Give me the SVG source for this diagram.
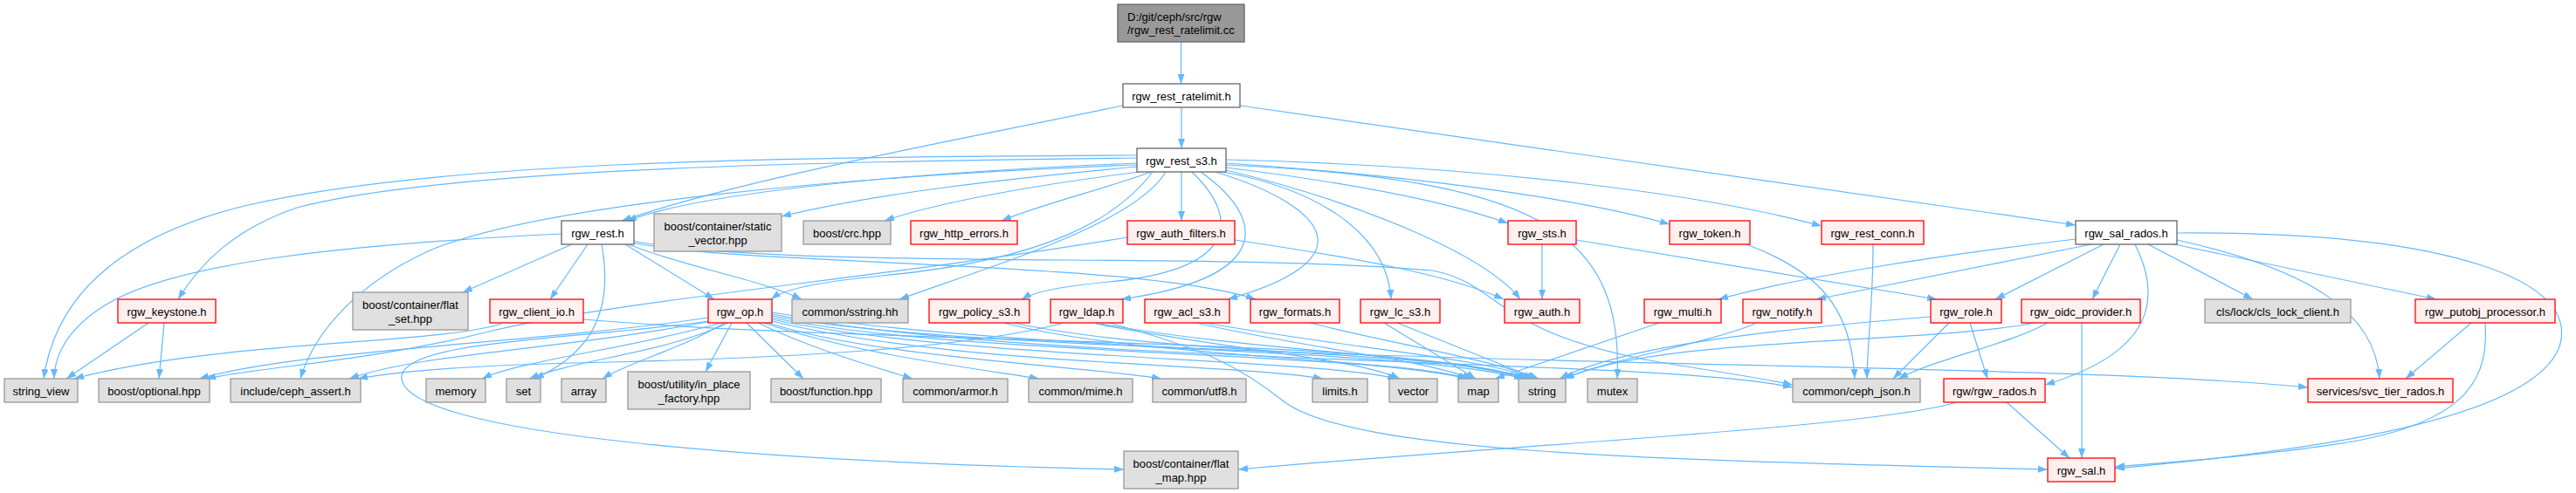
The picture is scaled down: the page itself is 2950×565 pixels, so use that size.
<svg xmlns="http://www.w3.org/2000/svg" width="2950" height="565" viewBox="0 0 2950 565">
<style>
text{font-family:"Liberation Sans",Arial,Helvetica,sans-serif;font-size:13px;fill:#000;text-anchor:middle}
.root rect{fill:#999999;stroke:#666666;stroke-width:1.3}
.w rect{fill:#ffffff;stroke:#666666;stroke-width:1.3}
.r rect{fill:#fff0f0;stroke:#ff0000;stroke-width:1.3}
.g rect{fill:#e0e0e0;stroke:#999999;stroke-width:1.3}
.e path{fill:none;stroke:#63b8ff;stroke-width:1.2;marker-end:url(#ah)}
</style>
<defs>
<marker id="ah" markerUnits="userSpaceOnUse" markerWidth="11" markerHeight="8" refX="11" refY="4" orient="auto"><path d="M0,0 L11,4 L0,8 z" fill="#63b8ff"/></marker>
</defs>
<rect width="2950" height="565" fill="#ffffff"/>
<g id="connectors" class="e">
<path d="M1352.5,48 L1352.5,96"/>
<path d="M1353,123 L1353,170"/>
<path d="M1286,121 C1100,160 850,205 712,253"/>
<path d="M1420,121 L2377,258"/>
<path d="M1302,187 C1100,195 820,215 718,253"/>
<path d="M1302,191 C1150,205 1000,222 895,248"/>
<path d="M1305,197 C1200,210 1080,230 1013,253"/>
<path d="M1318,197 C1270,215 1190,235 1147,253"/>
<path d="M1353,197 L1353,253"/>
<path d="M1404,192 C1550,210 1660,232 1727,256"/>
<path d="M1404,187 C1600,200 1800,225 1912,257"/>
<path d="M1404,183 C1700,190 1950,222 2086,259"/>
<path d="M1302,181 C1000,185 520,190 340,238 C270,262 230,300 204,343"/>
<path d="M1302,178 C900,180 500,184 280,236 C150,268 65,330 50,434"/>
<path d="M1302,189 C1000,200 620,232 490,288 C410,325 360,380 344,434"/>
<path d="M1320,197 C1280,250 1200,298 1010,316 C940,323 900,330 883,343"/>
<path d="M1335,197 C1300,255 1150,300 1030,343"/>
<path d="M1365,197 C1425,255 1410,310 1270,323 C1215,328 1185,334 1170,343"/>
<path d="M1375,197 C1450,250 1460,318 1284,343"/>
<path d="M1392,197 C1530,240 1560,300 1406,343"/>
<path d="M1400,197 C1500,215 1588,262 1593,343"/>
<path d="M1404,195 C1550,230 1700,290 1741,343"/>
<path d="M1404,189 C1750,205 1860,260 1852,434"/>
<path d="M716,280 L818,343"/>
<path d="M720,280 C780,305 870,320 918,343"/>
<path d="M655,280 L530,335"/>
<path d="M673,280 L630,343"/>
<path d="M643,268 C400,280 200,300 120,350 C75,378 62,410 62,434"/>
<path d="M689,280 C700,340 690,400 612,434"/>
<path d="M724,278 C850,305 1300,298 1438,343"/>
<path d="M724,276 C900,310 1400,288 1640,310 C1720,325 1705,380 1900,415 C1980,428 2020,434 2053,441"/>
<path d="M574,371 C500,395 250,390 85,434"/>
<path d="M668,366 C1000,395 1600,385 1752,434"/>
<path d="M170,370 L76,434"/>
<path d="M188,370 L182,434"/>
<path d="M812,364 C600,395 350,400 228,434"/>
<path d="M815,368 C650,400 480,405 400,434"/>
<path d="M826,370 C720,400 600,412 552,434"/>
<path d="M834,370 C760,405 660,412 606,434"/>
<path d="M830,370 C780,400 720,415 690,434"/>
<path d="M838,370 L808,426"/>
<path d="M855,370 L920,434"/>
<path d="M868,370 C930,400 1000,420 1045,434"/>
<path d="M874,370 C980,405 1100,420 1190,434"/>
<path d="M880,370 C1000,410 1250,420 1330,434"/>
<path d="M884,368 C1100,420 1400,415 1515,434"/>
<path d="M884,366 C1100,412 1500,410 1600,434"/>
<path d="M884,364 C1100,408 1550,402 1680,434"/>
<path d="M884,362 C1100,402 1600,396 1745,434"/>
<path d="M812,368 C650,390 470,390 460,430 C450,500 900,530 1287,538"/>
<path d="M884,360 C1200,420 1900,410 2053,444"/>
<path d="M884,358 C1300,425 2300,410 2643,444"/>
<path d="M1270,370 C1380,400 1420,420 1470,460 C1550,520 1900,527 2345,538"/>
<path d="M2240,461 C2150,490 1700,512 1418,538"/>
<path d="M1150,370 C1300,410 1600,410 1682,434"/>
<path d="M1160,370 C1350,410 1650,400 1750,434"/>
<path d="M1215,371 C1100,400 900,410 700,415 C550,418 460,424 410,434"/>
<path d="M1255,371 C1400,400 1550,410 1603,434"/>
<path d="M1260,371 C1450,405 1650,405 1748,434"/>
<path d="M1370,370 C1500,400 1620,410 1686,434"/>
<path d="M1380,370 C1550,400 1700,410 1756,434"/>
<path d="M1500,370 C1600,395 1700,410 1762,434"/>
<path d="M1585,370 L1690,434"/>
<path d="M1600,370 L1760,434"/>
<path d="M1900,370 L1712,434"/>
<path d="M2010,371 C1950,395 1850,410 1790,434"/>
<path d="M2211,363 C2000,380 1850,400 1786,434"/>
<path d="M2232,370 L2168,434"/>
<path d="M2256,370 L2276,434"/>
<path d="M2345,370 C2300,395 2220,410 2174,434"/>
<path d="M2384,370 L2384,525"/>
<path d="M2330,370 C2200,395 1900,385 1792,434"/>
<path d="M2000,280 C2080,310 2120,350 2124,434"/>
<path d="M2145,280 C2145,350 2138,400 2138,434"/>
<path d="M1766,280 L1766,343"/>
<path d="M1805,275 L2218,343"/>
<path d="M1414,275 C1550,295 1660,315 1722,343"/>
<path d="M1291,272 C1000,320 700,345 560,380 C420,415 300,420 236,434"/>
<path d="M2377,274 C2200,295 2050,320 1968,343"/>
<path d="M2395,280 C2250,310 2150,330 2080,343"/>
<path d="M2409,280 L2285,343"/>
<path d="M2428,280 L2396,343"/>
<path d="M2445,280 C2470,330 2480,400 2342,441"/>
<path d="M2460,280 L2580,343"/>
<path d="M2490,280 L2790,343"/>
<path d="M2493,275 C2650,310 2720,360 2725,434"/>
<path d="M2493,267 C2800,265 2960,320 2930,400 C2890,490 2600,520 2422,537"/>
<path d="M2830,370 L2755,434"/>
<path d="M2846,370 C2850,430 2830,480 2700,505 C2600,522 2480,530 2422,535"/>
<path d="M2298,461 L2370,525"/>
</g>
<g id="n_root" class="root"><rect x="1280" y="5" width="145" height="43"/><text x="1291" y="23.5" style="text-anchor:start">D:/git/ceph/src/rgw</text><text x="1291" y="39" style="text-anchor:start">/rgw_rest_ratelimit.cc</text></g>
<g id="n_ratelimit" class="w"><rect x="1286" y="96" width="134" height="27"/><text x="1353" y="114.5">rgw_rest_ratelimit.h</text></g>
<g id="n_rest_s3" class="w"><rect x="1302" y="170" width="102" height="27"/><text x="1353" y="188.5">rgw_rest_s3.h</text></g>
<g id="n_rest" class="w"><rect x="643" y="253" width="83" height="27"/><text x="684.5" y="271.5">rgw_rest.h</text></g>
<g id="n_static_vector" class="g"><rect x="749" y="245" width="146" height="43"/><text x="822" y="264">boost/container/static</text><text x="822" y="280">_vector.hpp</text></g>
<g id="n_crc" class="g"><rect x="920" y="253" width="100" height="27"/><text x="970" y="271.5">boost/crc.hpp</text></g>
<g id="n_http_errors" class="r"><rect x="1043" y="253" width="122" height="27"/><text x="1104" y="271.5">rgw_http_errors.h</text></g>
<g id="n_auth_filters" class="r"><rect x="1291" y="253" width="123" height="27"/><text x="1352.5" y="271.5">rgw_auth_filters.h</text></g>
<g id="n_sts" class="r"><rect x="1727" y="253" width="78" height="27"/><text x="1766" y="271.5">rgw_sts.h</text></g>
<g id="n_token" class="r"><rect x="1912" y="253" width="92" height="27"/><text x="1958" y="271.5">rgw_token.h</text></g>
<g id="n_rest_conn" class="r"><rect x="2086" y="253" width="117" height="27"/><text x="2144.5" y="271.5">rgw_rest_conn.h</text></g>
<g id="n_sal_rados" class="w"><rect x="2377" y="253" width="116" height="27"/><text x="2435" y="271.5">rgw_sal_rados.h</text></g>
<g id="n_keystone" class="r"><rect x="135" y="343" width="112" height="27"/><text x="191" y="361.5">rgw_keystone.h</text></g>
<g id="n_flat_set" class="g"><rect x="404" y="335" width="132" height="43"/><text x="470" y="354">boost/container/flat</text><text x="470" y="370">_set.hpp</text></g>
<g id="n_client_io" class="r"><rect x="561" y="343" width="107" height="27"/><text x="614.5" y="361.5">rgw_client_io.h</text></g>
<g id="n_op" class="r"><rect x="811" y="343" width="73" height="27"/><text x="847.5" y="361.5">rgw_op.h</text></g>
<g id="n_sstring" class="g"><rect x="907" y="343" width="133" height="27"/><text x="973.5" y="361.5">common/sstring.hh</text></g>
<g id="n_policy_s3" class="r"><rect x="1064" y="343" width="115" height="27"/><text x="1121.5" y="361.5">rgw_policy_s3.h</text></g>
<g id="n_ldap" class="r"><rect x="1203" y="343" width="83" height="27"/><text x="1244.5" y="361.5">rgw_ldap.h</text></g>
<g id="n_acl_s3" class="r"><rect x="1311" y="343" width="97" height="27"/><text x="1359.5" y="361.5">rgw_acl_s3.h</text></g>
<g id="n_formats" class="r"><rect x="1432" y="343" width="102" height="27"/><text x="1483" y="361.5">rgw_formats.h</text></g>
<g id="n_lc_s3" class="r"><rect x="1558" y="343" width="91" height="27"/><text x="1603.5" y="361.5">rgw_lc_s3.h</text></g>
<g id="n_auth" class="r"><rect x="1723" y="343" width="86" height="27"/><text x="1766" y="361.5">rgw_auth.h</text></g>
<g id="n_multi" class="r"><rect x="1883" y="343" width="88" height="27"/><text x="1927" y="361.5">rgw_multi.h</text></g>
<g id="n_notify" class="r"><rect x="1996" y="343" width="90" height="27"/><text x="2041" y="361.5">rgw_notify.h</text></g>
<g id="n_role" class="r"><rect x="2211" y="343" width="81" height="27"/><text x="2251.5" y="361.5">rgw_role.h</text></g>
<g id="n_oidc" class="r"><rect x="2315" y="343" width="136" height="27"/><text x="2383" y="361.5">rgw_oidc_provider.h</text></g>
<g id="n_cls_lock" class="g"><rect x="2525" y="343" width="167" height="27"/><text x="2608.5" y="361.5">cls/lock/cls_lock_client.h</text></g>
<g id="n_putobj" class="r"><rect x="2766" y="343" width="160" height="27"/><text x="2846" y="361.5">rgw_putobj_processor.h</text></g>
<g id="n_string_view" class="g"><rect x="5" y="434" width="84" height="27"/><text x="47" y="452.5">string_view</text></g>
<g id="n_optional" class="g"><rect x="113" y="434" width="127" height="27"/><text x="176.5" y="452.5">boost/optional.hpp</text></g>
<g id="n_ceph_assert" class="g"><rect x="264" y="434" width="149" height="27"/><text x="338.5" y="452.5">include/ceph_assert.h</text></g>
<g id="n_memory" class="g"><rect x="488" y="434" width="68" height="27"/><text x="522" y="452.5">memory</text></g>
<g id="n_set" class="g"><rect x="580" y="434" width="39" height="27"/><text x="599.5" y="452.5">set</text></g>
<g id="n_array" class="g"><rect x="643" y="434" width="51" height="27"/><text x="668.5" y="452.5">array</text></g>
<g id="n_in_place" class="g"><rect x="719" y="426" width="140" height="43"/><text x="789" y="445">boost/utility/in_place</text><text x="789" y="461">_factory.hpp</text></g>
<g id="n_function" class="g"><rect x="883" y="434" width="126" height="27"/><text x="946" y="452.5">boost/function.hpp</text></g>
<g id="n_armor" class="g"><rect x="1034" y="434" width="120" height="27"/><text x="1094" y="452.5">common/armor.h</text></g>
<g id="n_mime" class="g"><rect x="1178" y="434" width="119" height="27"/><text x="1237.5" y="452.5">common/mime.h</text></g>
<g id="n_utf8" class="g"><rect x="1320" y="434" width="107" height="27"/><text x="1373.5" y="452.5">common/utf8.h</text></g>
<g id="n_limits" class="g"><rect x="1503" y="434" width="63" height="27"/><text x="1534.5" y="452.5">limits.h</text></g>
<g id="n_vector" class="g"><rect x="1591" y="434" width="55" height="27"/><text x="1618.5" y="452.5">vector</text></g>
<g id="n_map" class="g"><rect x="1670" y="434" width="46" height="27"/><text x="1693" y="452.5">map</text></g>
<g id="n_string" class="g"><rect x="1739" y="434" width="54" height="27"/><text x="1766" y="452.5">string</text></g>
<g id="n_mutex" class="g"><rect x="1818" y="434" width="57" height="27"/><text x="1846.5" y="452.5">mutex</text></g>
<g id="n_ceph_json" class="g"><rect x="2053" y="434" width="146" height="27"/><text x="2126" y="452.5">common/ceph_json.h</text></g>
<g id="n_rgw_rados" class="r"><rect x="2226" y="434" width="116" height="27"/><text x="2284" y="452.5">rgw/rgw_rados.h</text></g>
<g id="n_svc_tier" class="r"><rect x="2643" y="434" width="166" height="27"/><text x="2726" y="452.5">services/svc_tier_rados.h</text></g>
<g id="n_flat_map" class="g"><rect x="1287" y="517" width="131" height="43"/><text x="1352.5" y="536">boost/container/flat</text><text x="1352.5" y="552">_map.hpp</text></g>
<g id="n_sal" class="r"><rect x="2345" y="525" width="77" height="27"/><text x="2383.5" y="543.5">rgw_sal.h</text></g>
</svg>
